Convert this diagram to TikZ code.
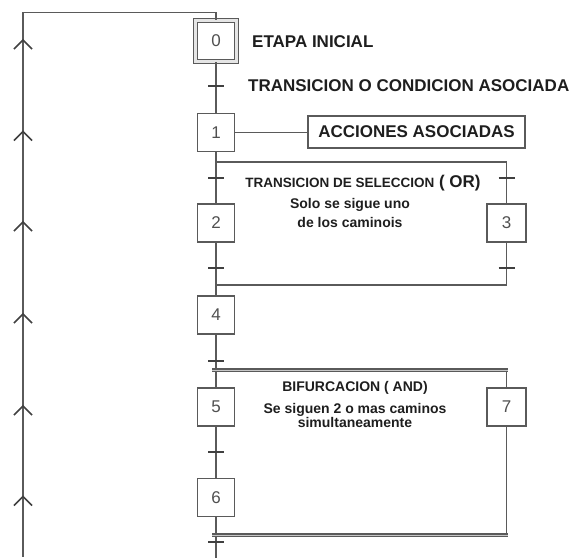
\documentclass[tikz,border=0pt]{standalone}
\usepackage{fontspec}
\setmainfont{Liberation Sans}
\definecolor{linegray}{HTML}{5A5A5A}
\definecolor{numgray}{HTML}{505050}
\definecolor{ink}{HTML}{1E1E1E}
\begin{document}
\begin{tikzpicture}[x=1pt,y=-1pt,
  ln/.style={draw=linegray,line width=1.7pt},
  stepbox/.style={draw=linegray,line width=1.7pt,fill=white,minimum width=37pt,minimum height=38pt,inner sep=0pt,text=numgray,font=\fontsize{17}{17}\selectfont},
  initbox/.style={stepbox,minimum width=41pt,minimum height=41pt,double=white!80!gray,double distance=2.2pt,line width=1.5pt},
  trbar/.style={draw=ink!85,line width=2.3pt},
  chev/.style={draw=ink!85,line width=1.7pt},
  andbar/.style={draw=linegray,line width=1.4pt,double=white!55!gray,double distance=1pt},
  lbl/.style={inner sep=0pt,text=ink,font=\bfseries\fontsize{17}{20}\selectfont},
  note/.style={inner sep=0pt,text=ink,align=center,font=\bfseries\fontsize{14}{19}\selectfont}
]
\useasboundingbox (0,0) rectangle (574,558);

% steps
\node[initbox] (s0) at (216,41) {0};
\node[stepbox] (s1) at (216,132.5) {1};
\node[stepbox] (s2) at (216,223) {2};
\node[stepbox,minimum width=39pt] (s3) at (506.5,223) {3};
\node[stepbox] (s4) at (216,315) {4};
\node[stepbox] (s5) at (216,407) {5};
\node[stepbox,minimum width=39pt] (s7) at (506.5,407) {7};
\node[stepbox] (s6) at (216,497.5) {6};
\node[lbl,draw=linegray,line width=1.7pt,minimum width=217pt,minimum height=32pt] (acc) at (416.5,132) {ACCIONES ASOCIADAS};

% loop-back line on the left
\coordinate (topR) at (216,12.5);
\coordinate (topL) at (23,12.5);
\coordinate (botL) at (23,557);
\draw[ln] (s0.north) -- (topR) -- (topL) -- (botL);
\foreach \yy in {40,131.5,222,314,406,496.5}
  \draw[chev] (14,\yy+9) -- (23,\yy) -- (32,\yy+9);

% main sequence
\draw[ln] (s0.south) -- (s1.north);
\draw[ln] (s1.east) -- (s1.east -| acc.west);
\draw[ln] (s1.south) -- (s2.north);
\draw[ln] (s2.south) -- (s4.north);
\draw[ln] (s4.south) -- (s5.north);
\draw[ln] (s5.south) -- (s6.north);
\coordinate (bot) at (216,558);
\draw[ln] (s6.south) -- (bot);

% selection (OR) branch
\coordinate (orTL) at (216,162);
\coordinate (orTR) at (506.5,162);
\coordinate (orBL) at (216,285);
\coordinate (orBR) at (506.5,285);
\draw[ln] (orTL) -- (orTR) -- (s3.north);
\draw[ln] (s3.south) -- (orBR) -- (orBL);

% parallel (AND) branch
\coordinate (andTL) at (212,370);
\coordinate (andTR) at (507.5,370);
\coordinate (andBL) at (212,535);
\coordinate (andBR) at (507.5,535);
\draw[ln] (s7.north |- andTR) -- (s7.north);
\draw[ln] (s7.south) -- (s7.south |- andBR);
\draw[andbar] (andTL) -- (andTR);
\draw[andbar] (andBL) -- (andBR);

% transitions
\foreach \x/\y in {216/86,216/178,216/268,506.5/178,506.5/268,216/361,216/452,216/542}
  \draw[trbar] (\x-8,\y) -- (\x+8,\y);

% labels
\node[lbl,anchor=west] (l0) at (252,42) {ETAPA INICIAL};
\node[lbl,anchor=west] (l1) at (248,86) {TRANSICION O CONDICION ASOCIADA};
\node[inner sep=0pt,text=ink,font=\bfseries] (lor) at (363,183)
  {{\fontsize{13.5}{15}\selectfont TRANSICION DE SELECCION}{\fontsize{17}{18}\selectfont\ ( OR)}};
\node[note] (nor) at (350,212.5) {Solo se sigue uno\\de los caminois};
\node[note] (land) at (355,388) {BIFURCACION ( AND)};
\node[note,font=\bfseries\fontsize{14}{14}\selectfont] (nand) at (355,415) {Se siguen 2 o mas caminos\\simultaneamente};
\end{tikzpicture}
\end{document}
